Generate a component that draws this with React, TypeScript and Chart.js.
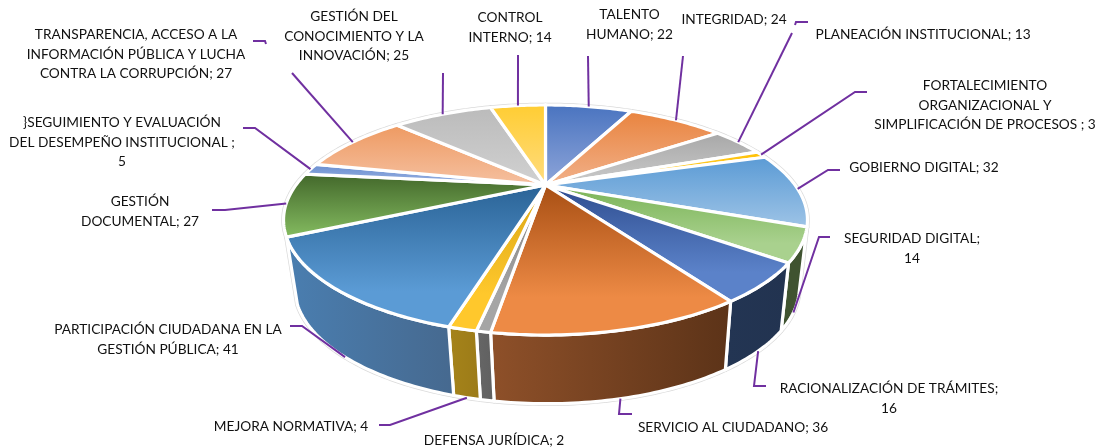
import React, { useEffect, useRef } from "react";
import { Chart, registerables } from "chart.js";

Chart.register(...registerables);

const categories = [
  "TALENTO HUMANO", "INTEGRIDAD", "PLANEACIÓN INSTITUCIONAL",
  "FORTALECIMIENTO ORGANIZACIONAL Y SIMPLIFICACIÓN DE PROCESOS ", "GOBIERNO DIGITAL",
  "SEGURIDAD DIGITAL", "RACIONALIZACIÓN DE TRÁMITES", "SERVICIO AL CIUDADANO",
  "DEFENSA JURÍDICA", "MEJORA NORMATIVA", "PARTICIPACIÓN CIUDADANA EN LA GESTIÓN PÚBLICA",
  "GESTIÓN DOCUMENTAL", "}SEGUIMIENTO Y EVALUACIÓN DEL DESEMPEÑO INSTITUCIONAL ",
  "TRANSPARENCIA, ACCESO A LA INFORMACIÓN PÚBLICA Y LUCHA CONTRA LA CORRUPCIÓN",
  "GESTIÓN DEL CONOCIMIENTO Y LA INNOVACIÓN", "CONTROL INTERNO",
];
const values = [22, 24, 13, 3, 32, 14, 16, 36, 2, 4, 41, 27, 5, 27, 25, 14];

const faceDark = ["#4a74c0", "#e9843f", "#a8a8a8", "#ffc000", "#5b9bd5", "#7ab356", "#2e4d8f", "#a84f14", "#808080", "#d9a514", "#2a6396", "#43682b", "#698ed0", "#ee9a62", "#bbbbbb", "#ffcd33"];
const faceLight = ["#8ea5d9", "#f1b089", "#cacaca", "#ffd966", "#9dc3e6", "#a9d18e", "#5b82c9", "#ed8a45", "#a5a5a5", "#ffc82c", "#5b9bd5", "#84bb60", "#9db4e3", "#f5c0a0", "#d1d1d1", "#ffdc7f"];
const wallLeft = ["#2f4f88", "#a55722", "#737373", "#b38600", "#3f6c94", "#3f5330", "#233553", "#8e5029", "#666666", "#a5831a", "#4a7eb0", "#2f491e", "#496391", "#a8693f", "#808080", "#b38f24"];
const wallRight = ["#2f4f88", "#a55722", "#737373", "#b38600", "#3f6c94", "#3f5330", "#223350", "#5c3318", "#606060", "#9c7b18", "#46698f", "#2f491e", "#496391", "#a8693f", "#808080", "#b38f24"];

const labelLines = [
  ["TALENTO", "HUMANO; 22"], ["INTEGRIDAD; 24"], ["PLANEACIÓN INSTITUCIONAL; 13"],
  ["FORTALECIMIENTO", "ORGANIZACIONAL Y", "SIMPLIFICACIÓN DE PROCESOS ; 3"], ["GOBIERNO DIGITAL; 32"],
  ["SEGURIDAD DIGITAL;", "14"], ["RACIONALIZACIÓN DE TRÁMITES;", "16"], ["SERVICIO AL CIUDADANO; 36"],
  ["DEFENSA JURÍDICA; 2"], ["MEJORA NORMATIVA; 4"], ["PARTICIPACIÓN CIUDADANA EN LA", "GESTIÓN PÚBLICA; 41"],
  ["GESTIÓN", "DOCUMENTAL; 27"], ["}SEGUIMIENTO Y EVALUACIÓN", "DEL DESEMPEÑO INSTITUCIONAL ;", "5"],
  ["TRANSPARENCIA, ACCESO A LA", "INFORMACIÓN PÚBLICA Y LUCHA", "CONTRA LA CORRUPCIÓN; 27"],
  ["GESTIÓN DEL", "CONOCIMIENTO Y LA", "INNOVACIÓN; 25"], ["CONTROL", "INTERNO; 14"],
];
const labelCenterX = [629.5, 734, 923, 985, 924, 912, 889, 733, 494, 291, 168, 140, 122, 136, 354, 510];
const labelFirstY = [15, 20, 35, 86, 168, 239, 389, 428, 441, 427, 330, 202, 123, 35, 17, 18];
// Elbow path of each leader line, running from the slice rim towards its label.
const leaderBends: number[][][] = [
  [[588, 56]], [[683, 56]], [[792, 33]], [[855, 92], [867, 92]], [[828, 170], [840, 170]],
  [[819, 237], [830, 237]], [[754, 386], [766, 386]], [[619, 414], [632, 414]],
  [], [[390, 425], [379, 425]], [[302, 326], [290, 326]], [[225, 210], [212, 210]],
  [[255, 128], [243, 128]], [[292, 73]], [[443, 73]], [[518, 55]],
];
const leaderStubs: number[][][] = [
  [[795, 25], [796, 22], [808, 22]],
  [[266, 44], [265, 41], [253, 41]],
];

const CX = 545.5, CY = 185, D = 3.286, A = 820, B = 343;
const A2 = 790, B2 = 280, H2 = 220, D2 = 3.286, BOTTOM_SHIFT = 1.5;
const FRONT = 0.3;
const top = (t: number) => {
  const u = Math.cos(t), v = Math.sin(t);
  return [CX + (A * u) / (D - v), CY + (B * v) / (D - v)];
};
const bottom = (t: number) => {
  const u = Math.cos(t), v = Math.sin(t);
  return [CX + BOTTOM_SHIFT + (A2 * u) / (D2 - v), CY + (B2 * v + H2) / (D2 - v)];
};

const pie3d = {
  id: "pie3d",
  beforeDatasetsDraw(chart: any) {
    const ctx: CanvasRenderingContext2D = chart.ctx;
    const arcs = chart.getDatasetMeta(0).data;
    const samples = (s: number, e: number, f: (t: number) => number[]) => {
      const n = Math.max(2, Math.ceil((e - s) * 60));
      const out: number[][] = [];
      for (let i = 0; i <= n; i++) out.push(f(s + ((e - s) * i) / n));
      return out;
    };
    const trace = (pts: number[][]) => {
      ctx.beginPath();
      pts.forEach((p, i) => (i ? ctx.lineTo(p[0], p[1]) : ctx.moveTo(p[0], p[1])));
      ctx.closePath();
    };
    const isFront = (a: any) => Math.sin((a.startAngle + a.endAngle) / 2) > FRONT;
    const walls = arcs.map((a: any) =>
      isFront(a)
        ? [...samples(a.startAngle, a.endAngle, top), ...samples(a.startAngle, a.endAngle, bottom).reverse()]
        : null
    );
    const faces = arcs.map((a: any) => [[CX, CY], ...samples(a.startAngle, a.endAngle, top)]);
    ctx.save();
    ctx.lineJoin = "round";
    ctx.strokeStyle = "#dadada";
    ctx.lineWidth = 4.6;
    [...walls, ...faces].forEach((p: number[][] | null) => {
      if (!p) return;
      trace(p);
      ctx.stroke();
    });

    ctx.strokeStyle = "#ffffff";
    ctx.lineWidth = 3.2;
    walls.forEach((p: number[][] | null, i: number) => {
      if (!p) return;
      const xs = p.map((q) => q[0]);
      const g = ctx.createLinearGradient(Math.min(...xs), 0, Math.max(...xs), 0);
      g.addColorStop(0, wallLeft[i]);
      g.addColorStop(1, wallRight[i]);
      ctx.fillStyle = g;
      trace(p);
      ctx.fill();
      ctx.stroke();
    });
    faces.forEach((p: number[][], i: number) => {
      const ys = p.map((q) => q[1]);
      const g = ctx.createLinearGradient(0, Math.min(...ys), 0, Math.max(...ys));
      g.addColorStop(0, faceDark[i]);
      g.addColorStop(isFront(arcs[i]) ? 0.75 : 1, faceLight[i]);
      ctx.fillStyle = g;
      trace(p);
      ctx.fill();
      ctx.stroke();
    });

    ctx.strokeStyle = "#7030a0";
    ctx.lineWidth = 2;
    ctx.lineJoin = "miter";
    arcs.forEach((a: any, i: number) => {
      const bends = leaderBends[i];
      if (!bends.length) return;
      const mid = (a.startAngle + a.endAngle) / 2;
      const start = isFront(a) ? bottom(mid) : top(mid);
      ctx.beginPath();
      ctx.moveTo(start[0], start[1]);
      bends.forEach((p) => ctx.lineTo(p[0], p[1]));
      ctx.stroke();
    });
    leaderStubs.forEach((s) => {
      ctx.beginPath();
      s.forEach((p, i) => (i ? ctx.lineTo(p[0], p[1]) : ctx.moveTo(p[0], p[1])));
      ctx.stroke();
    });

    ctx.fillStyle = "#111111";
    ctx.font = "13.7px Lato";
    ctx.textAlign = "center";
    ctx.textBaseline = "middle";
    labelLines.forEach((lines, i) => {
      lines.forEach((line, j) => ctx.fillText(line, labelCenterX[i], labelFirstY[i] + j * 19.5));
    });
    ctx.restore();
    return false;
  },
};

export default function App() {
  const ref = useRef<HTMLCanvasElement>(null);
  useEffect(() => {
    const chart = new Chart(ref.current!, {
      type: "pie",
      data: {
        labels: categories,
        datasets: [{ data: values, backgroundColor: faceDark, borderColor: "#ffffff" }],
      },
      options: {
        animation: false,
        responsive: false,
        plugins: { legend: { display: false }, tooltip: { enabled: false } },
      },
      plugins: [pie3d],
    } as any);
    return () => chart.destroy();
  }, []);
  return (
    <div style={{ position: "absolute", left: 0, top: 0, width: 1102, height: 448 }}>
      <canvas ref={ref} width={1102} height={448} style={{ display: "block" }} />
    </div>
  );
}
